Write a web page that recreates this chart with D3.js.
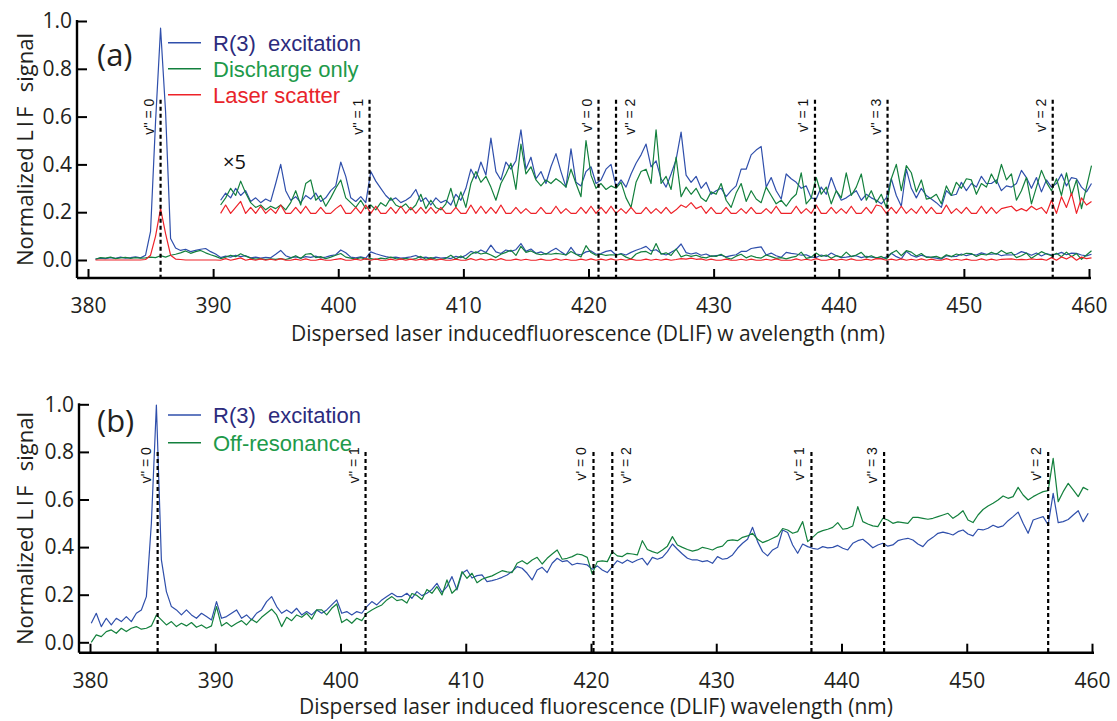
<!DOCTYPE html>
<html>
<head>
<meta charset="utf-8">
<script src="https://d3js.org/d3.v7.min.js"></script>
<style>
  body { margin: 0; background: #fff; }
  svg { display: block; font-family: "Open Sans", sans-serif; }
</style>
</head>
<body>
<script>

// wavelength sampling of the spectra (nm)
var aStart = 380.6, bStart = 380.1, step = 0.4;

// the "x5" copy in panel (a) starts here, scaled by 5 and lifted by 0.2
var zoomFrom = 390.6, zoomFactor = 5, zoomOffset = 0.2;

var xTicks = [380, 390, 400, 410, 420, 430, 440, 450, 460];
var yTicks = [0, 0.2, 0.4, 0.6, 0.8, 1.0];

// panel (a) : R(3) excitation, discharge only, laser scatter
var blueA = [0.004,0.008,0.006,0.010,0.007,0.012,0.008,0.010,0.013,0.009,
  0.020,0.120,0.580,0.970,0.620,0.090,0.050,0.040,0.045,0.035,
  0.040,0.045,0.048,0.035,0.025,
  0.010,0.016,0.012,0.020,0.014,0.018,0.009,0.012,0.008,0.011,
  0.009,0.024,0.040,0.018,0.010,0.013,0.008,0.014,0.011,0.016,
  0.009,0.012,0.018,0.022,0.042,0.030,0.012,0.009,0.013,0.008,
  0.034,0.026,0.020,0.014,0.010,0.012,
  0.008,0.010,0.013,0.019,0.009,0.012,0.006,0.012,0.008,0.010,
  0.006,0.015,0.010,0.020,0.036,0.028,0.042,0.031,0.062,0.034,
  0.027,0.042,0.036,0.043,0.069,0.036,0.046,0.028,0.034,0.024,
  0.038,0.049,0.034,0.021,0.053,0.025,0.022,0.034,0.038,0.024,
  0.027,0.036,0.040,0.021,0.027,0.021,0.032,0.041,0.048,0.057,
  0.038,0.043,0.028,0.021,0.032,0.044,0.067,0.031,0.025,0.030,
  0.020,0.025,0.015,0.018,0.020,0.013,0.018,0.022,0.036,0.036,
  0.048,0.052,0.055,0.021,0.029,0.018,0.011,0.032,0.028,0.025,
  0.020,0.022,0.012,0.011,0.021,0.015,0.029,0.018,0.010,0.012,
  0.015,0.018,0.010,0.015,0.012,0.010,0.007,0.012,0.028,0.014,
  0.005,0.036,0.020,0.012,0.020,0.014,0.011,0.008,0.004,0.018,
  0.014,0.015,0.025,0.018,0.024,0.021,0.030,0.024,0.024,0.027,
  0.018,0.022,0.021,0.024,0.035,0.029,0.020,0.029,0.017,0.027,
  0.021,0.024,0.032,0.022,0.029,0.028,0.021,0.017,0.024];

var greenA = [0.003,0.010,0.008,0.012,0.006,0.009,0.011,0.007,0.010,0.008,
  0.009,0.012,0.010,0.018,0.012,0.020,0.024,0.030,0.038,0.028,
  0.035,0.040,0.030,0.022,0.015,
  0.006,0.012,0.020,0.014,0.026,0.016,0.008,0.004,0.006,0.002,
  0.005,0.003,0.006,0.002,0.008,0.018,0.006,0.024,0.027,0.010,
  0.014,0.005,0.012,0.020,0.027,0.012,0.008,0.004,0.010,0.003,
  0.006,0.002,0.008,0.005,0.012,0.006,
  0.004,0.007,0.002,0.006,0.015,0.003,0.010,0.004,0.002,0.007,
  0.020,0.004,0.017,0.004,0.024,0.034,0.025,0.030,0.021,0.010,
  0.024,0.032,0.041,0.019,0.057,0.032,0.038,0.027,0.022,0.027,
  0.024,0.028,0.025,0.021,0.036,0.024,0.013,0.060,0.031,0.020,
  0.024,0.019,0.022,0.020,0.025,0.012,0.004,0.025,0.034,0.036,
  0.024,0.069,0.024,0.030,0.019,0.046,0.013,0.021,0.015,0.020,
  0.012,0.009,0.017,0.015,0.024,0.010,0.004,0.016,0.024,0.009,
  0.018,0.011,0.008,0.021,0.014,0.007,0.010,0.005,0.011,0.015,
  0.033,0.007,0.012,0.029,0.015,0.021,0.007,0.018,0.012,0.033,
  0.014,0.021,0.032,0.010,0.018,0.008,0.015,0.004,0.028,0.040,
  0.018,0.039,0.033,0.017,0.027,0.011,0.012,0.015,0.007,0.022,
  0.014,0.025,0.020,0.028,0.027,0.015,0.024,0.021,0.032,0.024,
  0.040,0.027,0.032,0.010,0.018,0.029,0.007,0.021,0.035,0.025,
  0.018,0.028,0.014,0.033,0.014,0.027,0.003,0.021,0.039];

var redA = [0,0,0,0,0,0,0,0,0,0,
  0.002,0.020,0.100,0.215,0.110,0.020,0.004,0.002,0,0,
  0,0,0,0,0,
  -0.001,0.006,-0.001,0.004,0.009,-0.001,0.004,-0.001,0.005,-0.001,
  0.003,-0.001,0.006,-0.001,-0.001,0.004,-0.001,0.005,-0.001,-0.001,
  0.004,-0.001,-0.001,0.003,0.006,-0.001,-0.001,0.004,-0.001,0.006,
  -0.001,0.005,-0.001,-0.001,0.004,-0.001,0.005,-0.001,0.004,-0.001,
  0.004,-0.001,0.004,-0.001,0.004,-0.001,-0.001,0.004,-0.001,-0.001,
  0.006,-0.001,0.005,-0.001,0.004,-0.001,0.006,-0.001,-0.001,0.004,
  -0.001,0.003,-0.001,-0.001,0.004,-0.001,-0.001,0.005,-0.001,0.003,
  -0.001,-0.001,0.004,-0.001,0.005,-0.001,0.004,-0.001,0.005,-0.001,
  0.003,-0.001,0.004,-0.001,-0.001,0.004,-0.001,0.003,-0.001,0.004,
  -0.001,0.002,0.006,0.004,0.008,0.003,0.005,-0.001,0.004,-0.001,
  -0.001,0.004,-0.001,-0.001,0.003,-0.001,0.004,-0.001,-0.001,0.003,
  -0.001,0.005,-0.001,-0.001,-0.001,0.005,-0.001,0.003,-0.001,0.006,
  -0.001,-0.001,0.004,-0.001,0.003,-0.001,0.005,-0.001,-0.001,0.004,
  -0.001,0.006,0.005,-0.001,0.004,-0.001,0.005,-0.001,0.003,-0.001,
  0.005,-0.001,0.004,-0.001,-0.001,0.006,-0.001,0.003,-0.001,0.004,
  -0.001,-0.001,0.005,-0.001,0.004,-0.001,0.003,0.004,0.005,0.001,
  0.003,0.001,0.005,0.002,0.004,-0.001,0.010,-0.001,0.013,0.004,
  0.016,-0.001,0.012,0.006,0.009];

// panel (b) : R(3) excitation, off-resonance
var blueB = [0.080,0.122,0.066,0.101,0.073,0.101,0.087,0.108,0.087,0.122,0.136,0.192,
  0.500,0.997,0.346,
  0.213,0.150,0.136,0.115,0.136,0.115,0.101,0.122,0.108,0.094,
  0.171,0.101,0.108,0.122,0.136,0.101,0.115,0.094,0.122,0.136,
  0.171,0.192,0.150,0.122,0.136,0.122,0.143,0.115,0.129,0.115,
  0.136,0.122,0.136,0.157,0.178,0.122,0.129,0.115,0.129,0.122,
  0.150,0.171,0.157,0.178,0.192,0.206,0.192,
  0.192,0.206,0.185,0.213,0.196,0.206,0.222,0.248,0.210,0.234,0.276,0.220,0.290,0.304,0.270,0.280,
  0.283,0.255,0.259,0.265,0.273,0.283,0.297,0.318,0.311,0.290,
  0.262,0.304,0.315,0.293,0.332,0.353,0.339,0.343,0.325,0.332,
  0.329,0.325,0.307,0.321,0.304,0.293,0.318,0.343,0.332,0.346,
  0.335,0.346,0.353,0.325,0.357,0.349,0.357,0.381,0.413,0.391,
  0.371,0.353,0.346,0.346,0.339,0.343,0.332,0.360,0.349,0.353,
  0.367,0.395,0.416,0.433,0.483,0.423,0.381,0.363,0.388,0.399,
  0.472,0.461,0.409,0.374,0.413,0.402,0.395,0.391,0.402,0.397,
  0.399,0.407,0.395,0.388,0.416,0.427,0.433,0.416,0.397,0.409,
  0.416,0.404,0.409,0.427,0.433,0.437,0.430,0.413,0.402,0.427,
  0.441,0.458,0.463,0.458,0.451,0.465,0.472,0.455,0.447,0.475,
  0.472,0.479,0.492,0.483,0.489,0.511,0.528,0.547,0.500,0.458,
  0.514,0.521,0.528,0.493,0.626,0.503,0.507,0.516,0.535,0.553,
  0.507,0.542];

var greenB = [0.000,0.031,0.024,0.045,0.052,0.038,0.059,0.045,0.059,0.066,
  0.055,0.059,0.069,0.115,0.094,0.073,0.087,0.066,0.080,0.069,
  0.083,0.063,0.073,0.059,0.069,0.150,0.069,0.083,0.066,0.080,
  0.091,0.073,0.097,0.083,0.105,0.122,0.139,0.115,0.066,0.105,
  0.091,0.115,0.105,0.122,0.097,0.136,0.136,0.115,0.143,0.161,
  0.083,0.097,0.080,0.101,0.091,0.122,0.136,0.147,0.157,0.178,
  0.192,0.175,
  0.180,0.165,0.205,0.197,0.180,0.222,0.206,0.234,0.199,0.262,0.206,0.227,0.297,0.269,0.290,0.250,
  0.265,0.273,0.279,0.290,0.301,0.296,0.293,0.332,0.343,0.329,
  0.346,0.357,0.329,0.353,0.371,0.388,0.349,0.353,0.360,0.371,
  0.367,0.357,0.287,0.339,0.342,0.339,0.381,0.363,0.360,0.374,
  0.371,0.367,0.427,0.390,0.381,0.374,0.388,0.404,0.444,0.409,
  0.399,0.390,0.383,0.388,0.399,0.394,0.388,0.399,0.404,0.427,
  0.430,0.427,0.441,0.447,0.458,0.433,0.419,0.427,0.437,0.447,
  0.478,0.472,0.458,0.465,0.507,0.423,0.441,0.461,0.469,0.475,
  0.483,0.503,0.475,0.479,0.489,0.570,0.507,0.497,0.489,0.486,
  0.521,0.514,0.500,0.506,0.503,0.500,0.525,0.525,0.521,0.517,
  0.521,0.528,0.535,0.542,0.521,0.535,0.553,0.514,0.503,0.535,
  0.558,0.573,0.584,0.598,0.615,0.605,0.612,0.651,0.619,0.598,
  0.612,0.623,0.633,0.637,0.773,0.591,0.633,0.668,0.640,0.612,
  0.651,0.640];

// vibrational band positions marked by dashed lines
var bandLabels = ["v'' = 0", "v'' = 1", "v' = 0", "v'' = 2", "v' = 1", "v'' = 3", "v' = 2"];
var bandsA = [385.8, 402.5, 420.8, 422.2, 438.1, 443.9, 457.1];
var bandsB = [385.4, 402.0, 420.2, 421.7, 437.6, 443.4, 456.5];

var legendA = ["R(3)\u00a0 excitation", "Discharge only", "Laser scatter"];
var legendB = ["R(3)\u00a0 excitation", "Off-resonance"];

var colors = { blue: '#2f4fab', green: '#13803d', red: '#ee2229' };
var textColors = { blue: '#2c2b7d', green: '#1e9a4a', red: '#e8242b' };

var svg = d3.select('body').append('svg')
  .attr('width', 1117).attr('height', 721);
svg.append('rect').attr('width', 1117).attr('height', 721).attr('fill', '#fff');

var toPoints = function(vals, start) {
  return vals.map(function(v, i) { return [start + i * step, v]; });
};

var drawPanel = function(p) {
  var x = d3.scaleLinear().domain([380, 460]).range(p.xRange);
  var y = d3.scaleLinear().domain([0, 1]).range(p.yRange);
  var g = svg.append('g');
  var line = d3.line()
    .x(function(d) { return x(d[0]); })
    .y(function(d) { return y(d[1]); });

  // traces
  p.series.forEach(function(s) {
    g.append('path').datum(s.points)
      .attr('d', line).attr('fill', 'none')
      .attr('stroke', colors[s.color]).attr('stroke-width', 1.2)
      .attr('stroke-linejoin', 'round');
  });
  if (p.zoomed) {
    p.series.forEach(function(s) {
      var pts = s.points
        .filter(function(d) { return d[0] >= zoomFrom - 1e-6; })
        .map(function(d) { return [d[0], zoomOffset + zoomFactor * d[1]]; });
      g.append('path').datum(pts)
        .attr('d', line).attr('fill', 'none')
        .attr('stroke', colors[s.color]).attr('stroke-width', 1.2)
        .attr('stroke-linejoin', 'round');
    });
    g.append('text').attr('x', 223).attr('y', 169)
      .attr('font-size', 20).attr('fill', '#111').text('\u00d75');
  }

  // dashed band markers
  p.bands.forEach(function(b, i) {
    var bx = x(b);
    g.append('line')
      .attr('x1', bx).attr('x2', bx)
      .attr('y1', y(p.bandTop)).attr('y2', p.axisY)
      .attr('stroke', '#000').attr('stroke-width', 2.2)
      .attr('stroke-dasharray', '4,3');
    var lx = bx + (bandLabels[i] === "v'' = 2" ? 14 : -12);
    var ly = y(p.labelTop);
    g.append('text')
      .attr('x', lx).attr('y', ly)
      .attr('transform', 'rotate(-90,' + lx + ',' + ly + ')')
      .attr('text-anchor', 'end').attr('dominant-baseline', 'central')
      .attr('font-family', '"Liberation Sans", Arial, sans-serif')
      .attr('font-size', 14).attr('fill', '#111')
      .text(bandLabels[i]);
  });

  // axes
  var xAxis = g.append('g').attr('transform', 'translate(0,' + p.axisY + ')')
    .call(d3.axisBottom(x).tickValues(xTicks).tickSizeInner(-9).tickSizeOuter(0).tickPadding(20));
  var yAxis = g.append('g').attr('transform', 'translate(' + p.axisX + ',0)')
    .call(d3.axisLeft(y).tickValues(yTicks).tickFormat(d3.format('.1f'))
      .tickSizeInner(-10).tickSizeOuter(0).tickPadding(5));
  [xAxis, yAxis].forEach(function(a) {
    a.select('.domain').remove();
    a.attr('font-family', null).attr('font-size', 21);
    a.selectAll('.tick line').attr('stroke-width', 2);
    a.selectAll('.tick text').attr('fill', '#231f20');
  });
  g.append('line')
    .attr('x1', p.axisX).attr('x2', p.xEnd)
    .attr('y1', p.axisY).attr('y2', p.axisY)
    .attr('stroke', '#000').attr('stroke-width', 2.4);
  g.append('line')
    .attr('x1', p.axisX).attr('x2', p.axisX)
    .attr('y1', p.axisY).attr('y2', y(1) - 1)
    .attr('stroke', '#000').attr('stroke-width', 2.4);

  // axis titles
  g.append('text')
    .attr('x', p.titleX).attr('y', p.titleY)
    .attr('text-anchor', 'middle').attr('font-size', 21).attr('fill', '#231f20')
    .text(p.xTitle);
  var ty = (y(1) + p.axisY) / 2;
  var yt = g.append('text')
    .attr('x', 33).attr('y', ty)
    .attr('transform', 'rotate(-90,33,' + ty + ')')
    .attr('text-anchor', 'middle').attr('font-size', 22).attr('fill', '#231f20');
  yt.append('tspan').text('Normalized\u00a0');
  yt.append('tspan').attr('letter-spacing', 3).text('LIF');
  yt.append('tspan').text('\u00a0\u00a0signal');

  // panel tag and legend
  g.append('text').attr('x', 97).attr('y', p.tagY)
    .attr('font-size', 31).attr('fill', '#231f20').text(p.tag);
  p.legend.forEach(function(name, i) {
    var ly = p.legendY + i * p.legendGap;
    var c = p.series[i].color;
    g.append('line').attr('x1', 168).attr('x2', 201)
      .attr('y1', ly).attr('y2', ly)
      .attr('stroke', colors[c]).attr('stroke-width', 1.6);
    g.append('text').attr('x', 213).attr('y', ly + 8)
      .attr('font-family', '"Liberation Sans", Arial, sans-serif')
      .attr('font-size', 22).attr('fill', textColors[c]).text(name);
  });
};

drawPanel({
  xRange: [88, 1089], yRange: [260, 21], axisX: 77, axisY: 278, xEnd: 1091,
  series: [
    { points: toPoints(blueA, aStart), color: 'blue' },
    { points: toPoints(greenA, aStart), color: 'green' },
    { points: toPoints(redA, aStart), color: 'red' }
  ],
  zoomed: true,
  bands: bandsA, bandTop: 0.67, labelTop: 0.675,
  titleX: 588, titleY: 341,
  xTitle: 'Dispersed laser inducedfluorescence (DLIF) w avelength (nm)',
  tag: '(a)', tagY: 66,
  legend: legendA, legendY: 42.7, legendGap: 26
});

drawPanel({
  xRange: [90, 1092], yRange: [642.3, 404.3], axisX: 79, axisY: 652.7, xEnd: 1094,
  series: [
    { points: toPoints(blueB, bStart), color: 'blue' },
    { points: toPoints(greenB, bStart), color: 'green' }
  ],
  zoomed: false,
  bands: bandsB, bandTop: 0.80, labelTop: 0.82,
  titleX: 596, titleY: 714,
  xTitle: 'Dispersed laser induced fluorescence (DLIF) wavelength (nm)',
  tag: '(b)', tagY: 432,
  legend: legendB, legendY: 415, legendGap: 27.7
});

</script>
</body>
</html>
